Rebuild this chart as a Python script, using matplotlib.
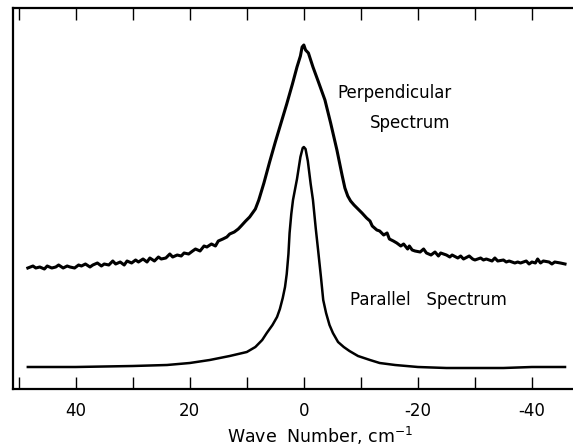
import numpy as np
import matplotlib.pyplot as plt

# wave number (cm-1) and intensity (arbitrary units)
perp_x = [48.4, 47.5, 47, 46.3, 45.5, 45, 44.2, 43.5, 43, 42.2, 41.5, 41, 40.2, 39.5, 39, 38.3, 37.5,
          37, 36.2, 35.5, 35, 34.2, 33.5, 33, 32.2, 31.5, 31, 30.2, 29.5, 29, 28.2, 27.5, 27, 26.2,
          25.5, 25, 24.2, 23.5, 23, 22.2, 21.5, 21, 20.2, 19.5, 19, 18.2, 17.5, 17, 16.2, 15.5, 15,
          14.2, 13.5, 13, 12.2, 11.5, 11, 10.2, 9.5, 9, 8.5, 7.9, 7, 6, 5, 4, 3, 2, 1.2, 0.6, 0.3, 0,
          -0.3, -0.8, -1.6, -2.5, -3.7, -4.7, -5.8, -6.7, -7.2, -7.7, -8.2, -8.8, -9.5, -10.2,
          -11, -11.6, -12, -12.8, -13.3, -14, -14.6, -15, -15.7, -16.3, -17, -17.5, -18.2, -18.5,
          -19, -19.5, -20.4, -21, -21.5, -22.3, -23, -23.6, -24, -25, -25.6, -26, -27, -27.5, -28,
          -29, -29.6, -30, -31, -31.5, -32, -33, -33.5, -34, -35, -35.5, -36, -37, -37.5, -38,
          -39, -39.5, -40, -40.6, -41, -41.5, -42, -43, -43.5, -44, -45, -45.8]
perp_y = [121, 123, 121, 122, 120, 123, 121, 122, 124, 121, 123, 122, 121, 124, 123, 125, 122,
          124, 126, 123, 125, 124, 128, 125, 127, 124, 128, 126, 129, 127, 130, 127, 131, 128,
          132, 130, 131, 135, 132, 134, 133, 136, 135, 138, 140, 138, 143, 142, 145, 143, 148,
          150, 152, 155, 157, 160, 163, 168, 172, 176, 180, 189, 206, 227, 247, 266, 285, 305,
          322, 333, 342, 344, 339, 336, 322, 308, 289, 266, 239, 214, 201, 193, 188, 184, 180,
          176, 171, 168, 163, 159, 158, 154, 156, 150, 148, 146, 143, 145, 140, 143, 139, 138,
          137, 140, 136, 134, 137, 133, 136, 134, 132, 134, 131, 133, 130, 133, 130, 129, 131,
          129, 130, 128, 131, 128, 129, 127, 128, 126, 127, 126, 128, 125, 127, 126, 130, 126,
          128, 127, 125, 127, 126, 125]

par_x = [48.4, 40, 30, 24, 20, 16.5, 13, 10, 8.5, 7.3, 6.5, 5.5, 4.7, 4.2, 3.7, 3.3, 3.0, 2.7,
         2.5, 2.2, 1.9, 1.2, 0.6, 0.2, 0, -0.3, -0.7, -1.2, -1.6, -2.1, -2.5, -3.0, -3.4, -3.9,
         -4.5, -5.1, -6.0, -7.0, -8.0, -9.5, -11.6, -13.3, -16, -20, -25, -30, -35, -40, -45.8]
par_y = [22, 22, 23, 24, 26, 29, 33, 37, 42, 49, 56, 64, 72, 80, 91, 102, 115, 135,
         156, 175, 189, 210, 232, 241, 242, 240, 228, 205, 189, 160, 139, 112, 89, 76,
         64, 56, 47, 42, 38, 33, 29, 26, 24, 22, 21, 21, 21, 22, 22]

xticks = [50, 40, 30, 20, 10, 0, -10, -20, -30, -40]
xticklabels = ['', '40', '', '20', '', '0', '', '-20', '', '-40']

fig = plt.figure(figsize=(5.73, 4.46), dpi=100)
ax = fig.add_axes([13 / 573, 1 - 389 / 446, 1 - 13 / 573, 381 / 446])

ax.plot(perp_x, perp_y, color='black', lw=2.2, solid_joinstyle='round')
ax.plot(par_x, par_y, color='black', lw=1.8, solid_joinstyle='round')

ax.set_xlim(51, -47.2)
ax.set_ylim(0, 381)

ax.set_xticks(xticks)
ax.set_xticklabels(xticklabels, fontsize=12)
ax.tick_params(axis='x', direction='in', length=8.5, width=1, top=True, pad=9)
ax.set_yticks([])
ax.spines['right'].set_visible(False)
for s in ['left', 'top', 'bottom']:
    ax.spines[s].set_linewidth(1.6)

ax.set_xlabel('Wave  Number, cm$^{-1}$', fontsize=12.5, labelpad=3)
ax.xaxis.set_label_coords(0.548, -0.095)

# annotations
ax.text(-26, 389 - 93, 'Perpendicular', fontsize=12, ha='right', va='center')
ax.text(-25.7, 389 - 123, 'Spectrum', fontsize=12, ha='right', va='center')
ax.text(-21.9, 389 - 300, 'Parallel   Spectrum', fontsize=12, ha='center', va='center')

fig.savefig('out.png', dpi=100)
